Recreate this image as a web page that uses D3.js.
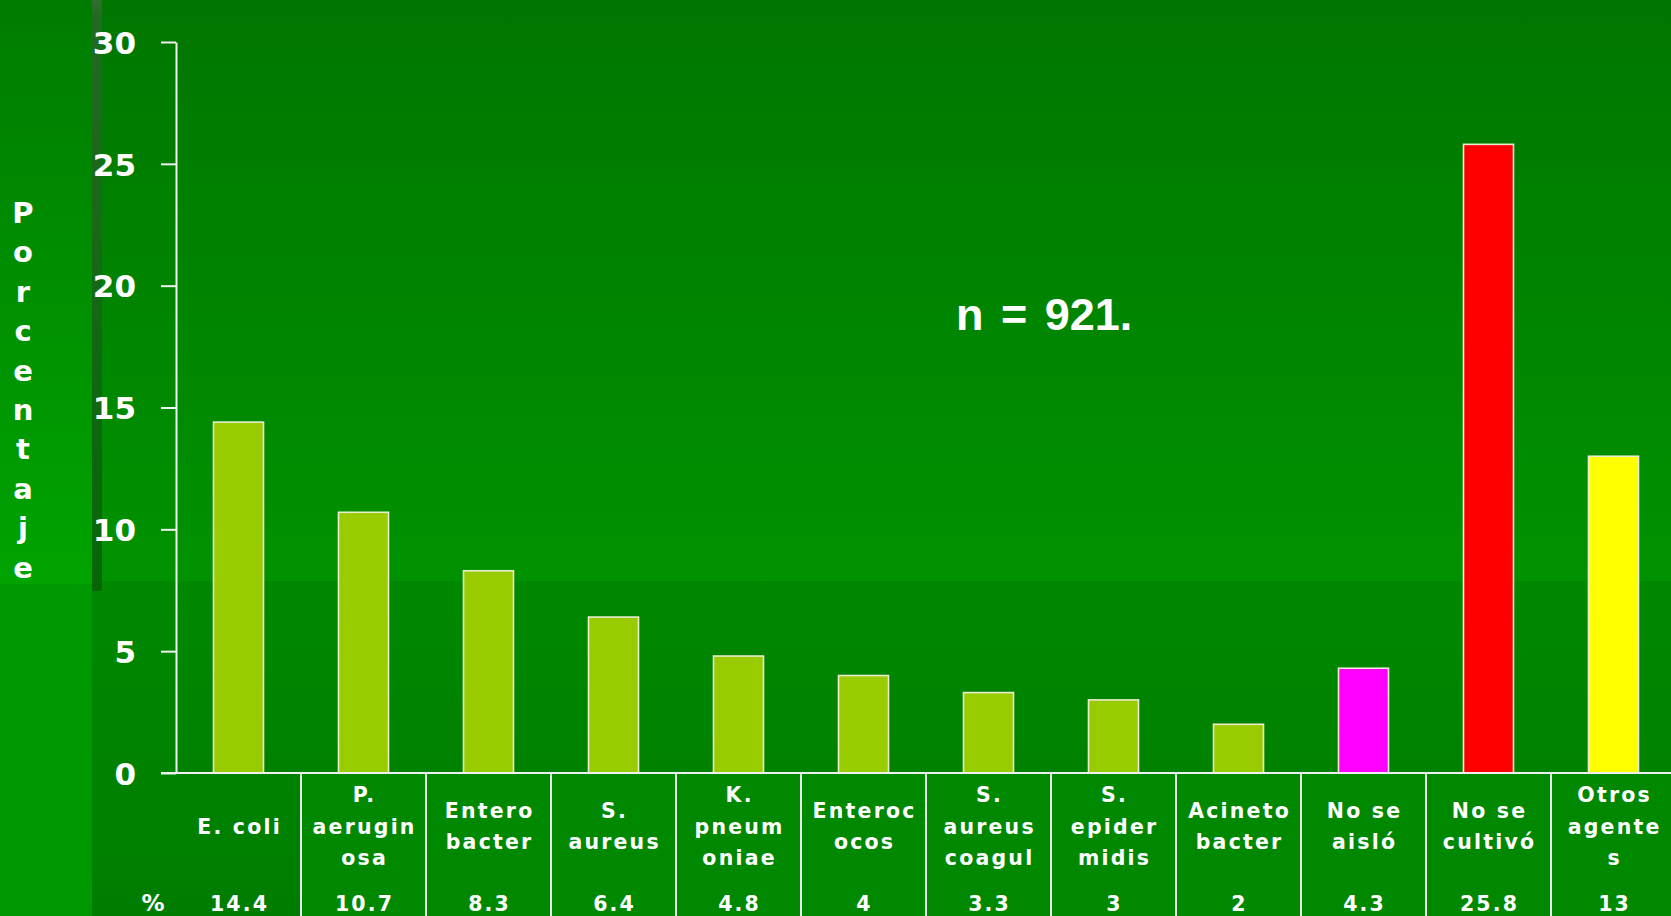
<!DOCTYPE html>
<html>
<head>
<meta charset="utf-8">
<script src="https://cdn.jsdelivr.net/npm/d3@7/dist/d3.min.js"></script>
<style>
  html, body { margin: 0; padding: 0; background: #008000; overflow: hidden; }
  svg { display: block; }
  text { font-family: "DejaVu Sans", sans-serif; font-weight: bold; fill: #ffffff; }
  text.note { font-family: "Liberation Sans", Arial, sans-serif; }
</style>
</head>
<body>
<svg id="chart" width="1671" height="916"></svg>
<script>
// ---- data ----
const categories = ["E. coli", "P. aeruginosa", "Enterobacter", "S. aureus", "K. pneumoniae", "Enterococos",
                    "S. aureus coagul", "S. epidermidis", "Acinetobacter", "No se aisló", "No se cultivó", "Otros agentes"];
const labelLines = [["E. coli"], ["P.", "aerugin", "osa"], ["Entero", "bacter"], ["S.", "aureus"],
                    ["K.", "pneum", "oniae"], ["Enteroc", "ocos"], ["S.", "aureus", "coagul"], ["S.", "epider", "midis"],
                    ["Acineto", "bacter"], ["No se", "aisló"], ["No se", "cultivó"], ["Otros", "agente", "s"]];
const values = [14.4, 10.7, 8.3, 6.4, 4.8, 4, 3.3, 3, 2, 4.3, 25.8, 13];
const valueLabels = ["14.4", "10.7", "8.3", "6.4", "4.8", "4", "3.3", "3", "2", "4.3", "25.8", "13"];
const barColors = ["#99cc00", "#99cc00", "#99cc00", "#99cc00", "#99cc00", "#99cc00", "#99cc00", "#99cc00", "#99cc00",
                   "#ff00ff", "#ff0000", "#ffff00"];
const yTicks = [0, 5, 10, 15, 20, 25, 30];
const yTitle = "Porcentaje";
const rowHeader = "%";
const note = "n = 921.";

// ---- layout ----
const W = 1671, H = 916;
const axisX = 176, colW = 125;
const svg = d3.select("#chart");
const defs = svg.append("defs");

function vgrad(id, stops) {
  const g = defs.append("linearGradient").attr("id", id).attr("x1", 0).attr("y1", 0).attr("x2", 0).attr("y2", 1);
  stops.forEach(s => g.append("stop").attr("offset", s[0]).attr("stop-color", s[1]));
}
vgrad("gMainTop", [[0, "#007600"], [1, "#009200"]]);
vgrad("gMainBot", [[0, "#008800"], [1, "#007d00"]]);
vgrad("gLeftTop", [[0, "#007c00"], [1, "#00a300"]]);
vgrad("gStrip", [[0, "#2f6e2f"], [0.03, "#226a22"], [1, "#066606"]]);

// background
svg.append("rect").attr("x", 0).attr("y", 0).attr("width", W).attr("height", 581).attr("fill", "url(#gMainTop)");
svg.append("rect").attr("x", 0).attr("y", 581).attr("width", W).attr("height", H - 581).attr("fill", "url(#gMainBot)");
svg.append("rect").attr("x", 0).attr("y", 0).attr("width", 92).attr("height", 584).attr("fill", "url(#gLeftTop)");
svg.append("rect").attr("x", 0).attr("y", 584).attr("width", 92).attr("height", H - 584).attr("fill", "#009800");
svg.append("rect").attr("x", 92).attr("y", 0).attr("width", 10).attr("height", 591).attr("fill", "url(#gStrip)");

// scales
const x = d3.scaleBand().domain(categories).range([axisX, axisX + colW * categories.length]).padding(0);
const y = d3.scaleLinear().domain([0, 30]).range([773, 42]);
const barW = x.bandwidth() * 0.4;

// table cells (columns after the first)
svg.append("g").selectAll("rect").data(categories.slice(1)).join("rect")
  .attr("x", d => x(d)).attr("y", y(0)).attr("width", x.bandwidth()).attr("height", H - y(0))
  .attr("fill", "#008800");

// bars
svg.append("g").selectAll("rect").data(categories).join("rect")
  .attr("x", d => x(d) + (x.bandwidth() - barW) / 2)
  .attr("y", (d, i) => y(values[i]))
  .attr("width", barW)
  .attr("height", (d, i) => y(0) - y(values[i]))
  .attr("fill", (d, i) => barColors[i])
  .attr("stroke", "#ececd0").attr("stroke-width", 1.6);

// y axis
const yAxis = svg.append("g").attr("transform", `translate(${axisX},0)`)
  .call(d3.axisLeft(y).tickValues(yTicks).tickSize(15).tickSizeOuter(0).tickPadding(25).tickFormat(d3.format("d")));
yAxis.select(".domain").attr("stroke", "#f0f0f0").attr("stroke-width", 2);
yAxis.selectAll(".tick line").attr("stroke", "#f0f0f0").attr("stroke-width", 2);
yAxis.selectAll(".tick text").attr("fill", "#fff").style("font-size", "31px").attr("dy", "0.36em");

// table lines
svg.append("line").attr("x1", axisX - 15).attr("x2", W).attr("y1", y(0)).attr("y2", y(0))
  .attr("stroke", "#f0f0f0").attr("stroke-width", 2);
svg.append("g").selectAll("line").data(categories.slice(1)).join("line")
  .attr("x1", d => x(d)).attr("x2", d => x(d)).attr("y1", y(0)).attr("y2", H)
  .attr("stroke", "#e8e8e8").attr("stroke-width", 2);

// category labels
const lineGap = 31.5, labelCenter = 826, fs = 20.5, ls = 2.2;
const lab = svg.append("g").selectAll("text").data(categories).join("text")
  .attr("text-anchor", "middle").attr("font-size", fs).attr("letter-spacing", ls);
lab.each(function(d, i) {
  const lines = labelLines[i];
  const t = d3.select(this);
  lines.forEach((ln, k) => {
    t.append("tspan")
      .attr("x", x(d) + x.bandwidth() / 2 + ls / 2)
      .attr("y", labelCenter + (k - (lines.length - 1) / 2) * lineGap + 7.5)
      .text(ln);
  });
});

// value row
svg.append("g").selectAll("text").data(categories).join("text")
  .attr("x", d => x(d) + x.bandwidth() / 2 + ls / 2)
  .attr("y", 911).attr("text-anchor", "middle").attr("font-size", fs).attr("letter-spacing", ls)
  .text((d, i) => valueLabels[i]);
svg.append("text").attr("x", 153).attr("y", 911).attr("text-anchor", "middle")
  .attr("font-size", 23).text(rowHeader);

// y title (stacked letters)
svg.append("g").selectAll("text").data(yTitle.split("")).join("text")
  .attr("x", 23).attr("y", (d, i) => 223 + i * 39.4)
  .attr("text-anchor", "middle").attr("font-size", 29).text(d => d);

// note
svg.append("text").attr("class", "note").attr("x", 956).attr("y", 330).attr("font-size", 45)
  .attr("word-spacing", 5).text(note);
</script>
</body>
</html>
